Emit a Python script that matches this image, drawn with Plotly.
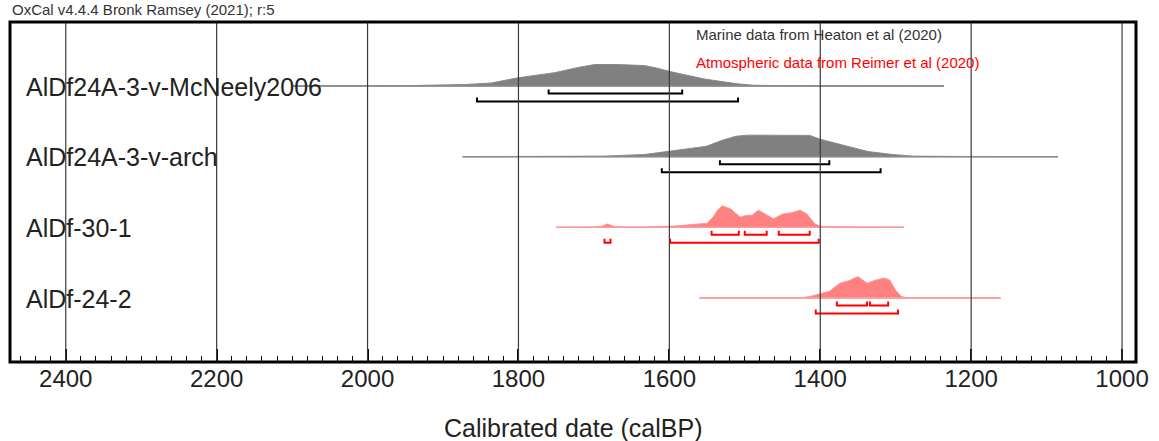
import plotly.graph_objects as go

# ---------------- data ----------------
labels = ["AlDf24A-3-v-McNeely2006", "AlDf24A-3-v-arch", "AlDf-30-1", "AlDf-24-2"]
curve = ["marine", "marine", "atmos", "atmos"]

# calibrated probability distributions (years calBP, relative probability 0..1)
years1 = [2100, 1950, 1870, 1836, 1801, 1752, 1721, 1699, 1670, 1633, 1616, 1599, 1554, 1510, 1488, 1450, 1350, 1236]
prob1 = [0.0, 0.015, 0.07, 0.14, 0.38, 0.62, 0.86, 1.0, 1.0, 0.95, 0.83, 0.67, 0.33, 0.10, 0.035, 0.015, 0.005, 0.0]

years2 = [1874, 1750, 1688, 1633, 1600, 1551, 1530, 1512, 1496, 1450, 1414, 1400, 1375, 1337, 1304, 1277, 1200, 1085]
prob2 = [0.0, 0.005, 0.025, 0.1, 0.24, 0.48, 0.76, 0.95, 1.0, 1.0, 0.99, 0.81, 0.57, 0.24, 0.1, 0.025, 0.005, 0.0]

years3 = [1750, 1700, 1690, 1682, 1674, 1665, 1640, 1608, 1600, 1586, 1568, 1550, 1542, 1536, 1530,
          1519, 1514, 1506, 1497, 1490, 1482, 1471, 1462, 1449, 1438, 1427, 1418, 1407, 1400, 1391, 1350, 1289]
prob3 = [0.0, 0.01, 0.05, 0.16, 0.05, 0.015, 0.01, 0.015, 0.05, 0.08, 0.13, 0.19, 0.48, 0.8, 1.0,
         0.87, 0.71, 0.48, 0.56, 0.57, 0.8, 0.57, 0.4, 0.63, 0.68, 0.8, 0.63, 0.16, 0.05, 0.025, 0.005, 0.0]

years4 = [1560, 1500, 1470, 1465, 1460, 1440, 1423, 1414, 1400, 1388, 1374, 1361, 1350, 1338, 1326,
          1315, 1308, 1300, 1293, 1286, 1250, 1161]
prob4 = [0.0, 0.014, 0.023, 0.046, 0.023, 0.014, 0.023, 0.07, 0.18, 0.31, 0.69, 0.82, 1.0, 0.69, 0.84,
         0.93, 0.84, 0.36, 0.08, 0.014, 0.005, 0.0]

dist_years = [years1, years2, years3, years4]
dist_probs = [prob1, prob2, prob3, prob4]

# highest posterior density ranges (from, to) in calBP
hpd68 = [[(1760, 1583)], [(1533, 1388)], [(1544, 1508), (1500, 1471), (1455, 1414)], [(1378, 1338), (1334, 1310)]]
hpd95 = [[(1855, 1509)], [(1610, 1320)], [(1686, 1678), (1599, 1402)], [(1406, 1297)]]

tick_vals = [2400, 2200, 2000, 1800, 1600, 1400, 1200, 1000]

# ---------------- styling ----------------
W, H = 1159, 441
ML, MR, MT, MB = 10, 18, 22, 79
PLOT_W = W - ML - MR
PLOT_H = H - MT - MB
ROW_PX = 70.67
TOP_OFF = 64.0
y_top = -TOP_OFF / ROW_PX
y_bot = (PLOT_H - TOP_OFF) / ROW_PX
PEAK = 21.5 / ROW_PX
OFF68 = 7.5 / ROW_PX
OFF95 = 15.5 / ROW_PX
BTICK = 4.0 / ROW_PX

colors = {
    "marine": dict(fill="#808080", line="#8a8a8a", bracket="#000000"),
    "atmos": dict(fill="#ff8080", line="#ff9a9a", bracket="#ff0000"),
}
FONT = "Liberation Sans, Arial, sans-serif"

fig = go.Figure()

for i, (yrs, pr) in enumerate(zip(dist_years, dist_probs)):
    c = colors[curve[i]]
    xs = list(yrs) + list(reversed(yrs))
    ys = [i - p * PEAK for p in pr] + [i] * len(yrs)
    fig.add_trace(go.Scatter(x=xs, y=ys, mode="lines", fill="toself", fillcolor=c["fill"],
                             line=dict(color=c["line"], width=1), hoverinfo="skip", showlegend=False))
    fig.add_trace(go.Scatter(x=[yrs[0], yrs[-1]], y=[i, i], mode="lines",
                             line=dict(color=c["line"], width=1.5), hoverinfo="skip", showlegend=False))
    for ranges, off in ((hpd68[i], OFF68), (hpd95[i], OFF95)):
        bx, by = [], []
        for a, b in ranges:
            yb = i + off
            bx += [a, a, b, b, None]
            by += [yb - BTICK, yb, yb, yb - BTICK, None]
        fig.add_trace(go.Scatter(x=bx, y=by, mode="lines", line=dict(color=c["bracket"], width=2),
                                 hoverinfo="skip", showlegend=False))

# vertical grid lines drawn above the distributions
for v in tick_vals:
    fig.add_shape(type="line", xref="x", yref="paper", x0=v, x1=v, y0=0, y1=1,
                  line=dict(color="#3a3a3a", width=1.2), layer="above")

# frame
fig.add_shape(type="rect", xref="paper", yref="paper", x0=0, x1=1, y0=0, y1=1,
              line=dict(color="black", width=3), layer="above")

# row labels
for i, lab in enumerate(labels):
    fig.add_annotation(x=(24 - ML) / PLOT_W, xref="paper", y=i + 0.01, yref="y",
                       text=lab, showarrow=False, xanchor="left", yanchor="middle",
                       font=dict(family=FONT, size=25, color="#222222"))

fig.add_annotation(x=0, xref="paper", y=(PLOT_H + MT - 10) / PLOT_H, yref="paper",
                   text="OxCal v4.4.4 Bronk Ramsey (2021); r:5", showarrow=False,
                   xanchor="left", yanchor="middle", font=dict(family=FONT, size=15, color="#333333"))
fig.add_annotation(x=(697 - ML) / PLOT_W, xref="paper", y=(PLOT_H + MT - 35) / PLOT_H, yref="paper",
                   text="Marine data from Heaton et al (2020)", showarrow=False,
                   xanchor="left", yanchor="middle", font=dict(family=FONT, size=15, color="#333333"))
fig.add_annotation(x=(697 - ML) / PLOT_W, xref="paper", y=(PLOT_H + MT - 62) / PLOT_H, yref="paper",
                   text="Atmospheric data from Reimer et al (2020)", showarrow=False,
                   xanchor="left", yanchor="middle", font=dict(family=FONT, size=15, color="#ff0000"))
fig.add_annotation(x=0.5, xref="paper", y=(PLOT_H + MT - 428) / PLOT_H, yref="paper",
                   text="Calibrated date (calBP)", showarrow=False,
                   xanchor="center", yanchor="middle", font=dict(family=FONT, size=25, color="#222222"))

x_left = 2400 + (66 - ML) / 0.75786
x_right = 1000 - (W - MR - 1127) / 0.75786

fig.update_layout(
    width=W, height=H,
    margin=dict(l=ML, r=MR, t=MT, b=MB),
    paper_bgcolor="white", plot_bgcolor="white",
    xaxis=dict(range=[x_left, x_right], tickvals=tick_vals, ticktext=[str(v) for v in tick_vals],
               showgrid=False, zeroline=False, showline=False,
               ticks="inside", ticklen=13, tickwidth=2, tickcolor="black",
               minor=dict(dtick=20, tick0=0, ticks="inside", ticklen=6, tickwidth=1, tickcolor="black"),
               tickfont=dict(family=FONT, size=24, color="#222222"), ticklabelstandoff=0),
    yaxis=dict(range=[y_bot, y_top], showgrid=False, zeroline=False, showticklabels=False, ticks=""),
    font=dict(family=FONT),
)

fig.write_html("out.html")
